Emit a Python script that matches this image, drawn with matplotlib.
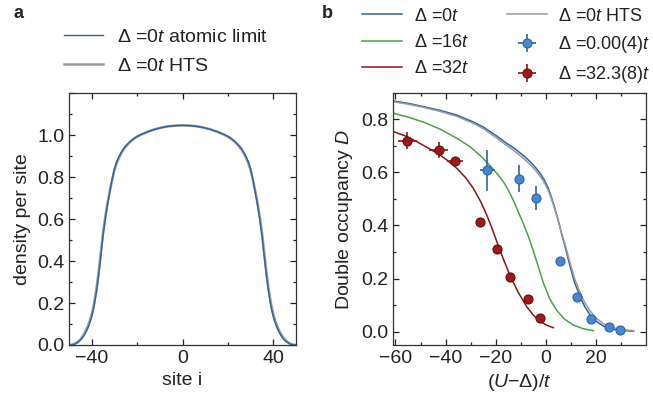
import numpy as np
import matplotlib
matplotlib.use('Agg')
import matplotlib.pyplot as plt
from matplotlib.ticker import MultipleLocator

plt.rcParams['font.family'] = ['Liberation Sans', 'DejaVu Sans']
plt.rcParams['mathtext.fontset'] = 'custom'
plt.rcParams['mathtext.rm'] = 'Liberation Sans'
plt.rcParams['mathtext.it'] = 'Liberation Sans:italic'
plt.rcParams['font.size'] = 14
plt.rcParams['text.color'] = '#222222'
plt.rcParams['axes.labelcolor'] = '#222222'
plt.rcParams['xtick.color'] = '#222222'
plt.rcParams['ytick.color'] = '#222222'

# panel a: density profile
site = [-50, -49, -48, -47, -46, -45, -44, -43, -42, -41, -40, -39, -38, -37, -36, -35, -34,
        -33, -32, -31, -30, -29, -28, -27, -26, -25, -24, -23, -22, -21, -20, -18, -15, -12,
        -9, -6, -3, 0, 3, 6, 9, 12, 15, 18, 20, 21, 22, 23, 24, 25, 26, 27, 28, 29, 30, 31,
        32, 33, 34, 35, 36, 37, 38, 39, 40, 41, 42, 43, 44, 45, 46, 47, 48, 49, 50]
dens_atomic = [0.0, 0.0, 0.002, 0.006, 0.013, 0.022, 0.035, 0.052, 0.073, 0.1, 0.134, 0.18,
               0.245, 0.324, 0.42, 0.52, 0.6, 0.67, 0.73, 0.79, 0.84, 0.872, 0.898, 0.918,
               0.935, 0.948, 0.96, 0.97, 0.979, 0.987, 0.994, 1.004, 1.017, 1.028, 1.036,
               1.042, 1.045, 1.046, 1.045, 1.042, 1.036, 1.028, 1.017, 1.004, 0.994, 0.987,
               0.979, 0.97, 0.96, 0.948, 0.935, 0.918, 0.898, 0.872, 0.84, 0.79, 0.73, 0.67,
               0.6, 0.52, 0.42, 0.324, 0.245, 0.18, 0.134, 0.1, 0.073, 0.052, 0.035, 0.022,
               0.013, 0.006, 0.002, 0.0, 0.0]
dens_hts = [0.0, 0.001, 0.004, 0.009, 0.017, 0.027, 0.041, 0.059, 0.082, 0.11, 0.146, 0.195,
            0.262, 0.343, 0.44, 0.535, 0.612, 0.678, 0.735, 0.787, 0.833, 0.866, 0.892, 0.913,
            0.931, 0.945, 0.957, 0.968, 0.977, 0.985, 0.992, 1.003, 1.017, 1.028, 1.036,
            1.042, 1.045, 1.046, 1.045, 1.042, 1.036, 1.028, 1.017, 1.003, 0.992, 0.985,
            0.977, 0.968, 0.957, 0.945, 0.931, 0.913, 0.892, 0.866, 0.833, 0.787, 0.735,
            0.678, 0.612, 0.535, 0.44, 0.343, 0.262, 0.195, 0.146, 0.11, 0.082, 0.059, 0.041,
            0.027, 0.017, 0.009, 0.004, 0.001, 0.0]

# panel b: double occupancy curves
x_d0 = [-61, -55, -49, -42, -35.6, -29, -25, -22.3, -19, -16, -13.5, -11, -8.5, -6, -4,
        -2, -0.5, 1, 2.3, 3.5, 5, 6.4, 8, 9.7, 11.5, 13.7, 15.5, 17.7, 20, 23, 27, 31, 35]
d_d0 = [0.869, 0.86, 0.848, 0.833, 0.816, 0.79, 0.771, 0.754, 0.733, 0.712, 0.696, 0.679,
        0.66, 0.638, 0.617, 0.593, 0.57, 0.54, 0.505, 0.468, 0.418, 0.365, 0.31, 0.245,
        0.185, 0.132, 0.095, 0.063, 0.04, 0.021, 0.009, 0.004, 0.002]
d_hts = [0.866, 0.857, 0.845, 0.829, 0.811, 0.785, 0.765, 0.747, 0.725, 0.704, 0.687,
         0.669, 0.649, 0.627, 0.606, 0.582, 0.56, 0.531, 0.499, 0.464, 0.416, 0.368, 0.318,
         0.258, 0.2, 0.148, 0.11, 0.078, 0.052, 0.03, 0.014, 0.007, 0.004]
x_d16 = [-61, -55, -49, -42, -35.6, -30, -25, -21, -19, -17, -15.5, -14, -12.5, -11, -9,
         -7, -5, -3, -1, 1.5, 4.4, 7.5, 11, 15, 19]
d_d16 = [0.823, 0.808, 0.79, 0.762, 0.729, 0.695, 0.653, 0.612, 0.59, 0.566, 0.542, 0.515,
         0.485, 0.452, 0.408, 0.36, 0.305, 0.245, 0.185, 0.125, 0.08, 0.047, 0.025, 0.011,
         0.004]
x_d32 = [-61, -56, -51.6, -47, -42.3, -39, -35.6, -32, -29, -26, -23.6, -21.5, -19.5, -17,
         -14.3, -11, -7.6, -5, -2.3, 0.5, 3]
d_d32 = [0.754, 0.737, 0.716, 0.692, 0.666, 0.643, 0.616, 0.58, 0.541, 0.49, 0.44, 0.39,
         0.338, 0.275, 0.212, 0.148, 0.094, 0.063, 0.039, 0.024, 0.015]

# measured points
x_blue = [-23.3, -10.5, -4.0, 5.5, 12.4, 18.0, 25.1, 29.7]
y_blue = [0.608, 0.576, 0.503, 0.265, 0.129, 0.049, 0.016, 0.006]
xerr_blue = [3.0, 0, 0, 0, 0, 0, 0, 0]
yerr_blue = [0.078, 0.05, 0.046, 0, 0, 0, 0, 0]
x_red = [-55.3, -42.8, -36.3, -26.3, -19.6, -14.1, -7.2, -2.5]
y_red = [0.72, 0.685, 0.641, 0.415, 0.312, 0.207, 0.122, 0.051]
xerr_red = [3.7, 3.7, 3.3, 1.5, 1.2, 1.0, 0, 0]
yerr_red = [0.033, 0.03, 0, 0.015, 0.015, 0.012, 0, 0]

c_blue = '#2e62a6'
c_gray = '#9a9a9a'
c_green = '#47a447'
c_red = '#8c1414'
c_bmark = '#4a86cc'
c_rmark = '#9c1c1c'

fig = plt.figure(figsize=(6.53, 3.96), dpi=100)
ax1 = fig.add_axes([0.1057, 0.1288, 0.3476, 0.6362])
ax2 = fig.add_axes([0.6018, 0.1288, 0.3875, 0.6371])

for ax in (ax1, ax2):
    ax.tick_params(which='both', direction='in', top=True, right=True, labelsize=14)
    ax.tick_params(which='major', length=4, width=0.9)
    ax.tick_params(which='minor', length=2.5, width=0.9)
    for s in ax.spines.values():
        s.set_linewidth(0.9)
        s.set_color('#333333')

# a
l1, = ax1.plot(site, dens_hts, color=c_gray, lw=1.8)
l2, = ax1.plot(site, dens_atomic, color=c_blue, lw=1.0)
ax1.set_xlim(-50, 50)
ax1.set_ylim(0, 1.2)
ax1.set_xticks([-40, 0, 40])
ax1.set_xticklabels(['\u221240', '0', '40'])
ax1.xaxis.set_minor_locator(MultipleLocator(20))
ax1.set_yticks([0, 0.2, 0.4, 0.6, 0.8, 1.0, 1.2])
ax1.set_yticklabels(['0.0', '0.2', '0.4', '0.6', '0.8', '1.0', ''])
ax1.yaxis.set_minor_locator(MultipleLocator(0.1))
ax1.set_xlabel('site i', fontsize=14)
ax1.set_ylabel('density per site', fontsize=14)
ax1.legend([l2, l1], ['\u0394 =0$t$ atomic limit', '\u0394 =0$t$ HTS'],
           loc='lower left', bbox_to_anchor=(-0.055, 1.04), frameon=False, fontsize=14,
           handlelength=2.0, handletextpad=0.7, labelspacing=0.62, borderaxespad=0)

# b
h0, = ax2.plot(x_d0, d_d0, color=c_blue, lw=1.1)
hh, = ax2.plot(x_d0, d_hts, color=c_gray, lw=1.1)
h16, = ax2.plot(x_d16, d_d16, color=c_green, lw=1.1)
h32, = ax2.plot(x_d32, d_d32, color=c_red, lw=1.1)
eb = ax2.errorbar(x_blue, y_blue, xerr=xerr_blue, yerr=yerr_blue, fmt='o', ms=6.5,
                  color=c_blue, mfc=c_bmark, mec=c_blue, mew=0.8, elinewidth=1.2, capsize=0)
er = ax2.errorbar(x_red, y_red, xerr=xerr_red, yerr=yerr_red, fmt='o', ms=6.5,
                  color=c_red, mfc=c_rmark, mec='#6a0a0a', mew=0.8, elinewidth=1.2, capsize=0)
ax2.set_xlim(-61, 40)
ax2.set_ylim(-0.05, 0.9)
ax2.set_xticks([-60, -40, -20, 0, 20])
ax2.set_xticklabels(['\u221260', '\u221240', '\u221220', '0', '20'])
ax2.set_xticks([-50, -30, -10, 10, 30], minor=True)
ax2.set_yticks([0, 0.2, 0.4, 0.6, 0.8])
ax2.set_yticklabels(['0.0', '0.2', '0.4', '0.6', '0.8'])
ax2.yaxis.set_minor_locator(MultipleLocator(0.1))
ax2.set_xlabel('($U$\u2212\u0394)/$t$', fontsize=14)
ax2.set_ylabel('Double occupancy $D$', fontsize=14)
ax2.legend([h0, h16, h32, hh, eb, er],
           ['\u0394 =0$t$', '\u0394 =16$t$', '\u0394 =32$t$', '\u0394 =0$t$ HTS',
            '\u0394 =0.00(4)$t$', '\u0394 =32.3(8)$t$'],
           ncol=2, loc='lower left', bbox_to_anchor=(-0.15, 1.0), frameon=False,
           fontsize=13, handlelength=2.2, handletextpad=0.65, labelspacing=0.52,
           columnspacing=2.1, borderaxespad=0)

fig.text(0.02, 0.955, 'a', fontsize=13, fontweight='bold')
fig.text(0.493, 0.955, 'b', fontsize=13, fontweight='bold')

fig.savefig('out.png', dpi=100)
